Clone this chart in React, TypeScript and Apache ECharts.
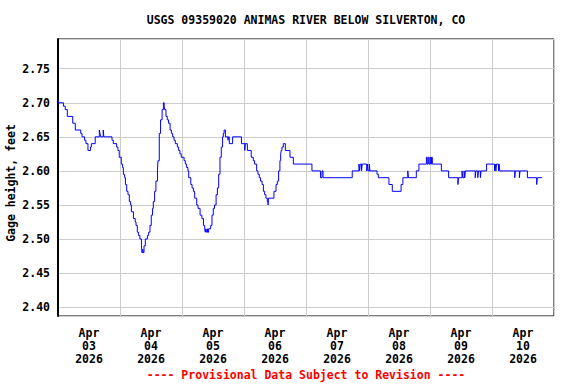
import React, { useEffect, useRef } from "react";
import * as echarts from "echarts";

// Hours since Apr 03 2026 00:00 where gage height changes (step series)
const hours = [
  0, 0.25, 2.1, 2.8, 3.6, 5.7, 6.7, 8.8, 9.3, 10.3, 10.8, 11.6, 12.6, 12.9, 14.4,
  16.0, 16.25, 16.5, 17.5, 17.75, 20.9, 21.4, 22.7, 23.2, 23.7, 24.5, 25.0, 25.3,
  25.8, 26.1, 26.6, 27.1, 27.6, 28.1, 28.4, 29.2, 29.9, 30.2, 30.7, 31.2, 31.7,
  32.3, 32.5, 32.8, 33.0, 33.3, 33.8, 34.6, 35.1, 35.6, 36.1, 36.6, 36.9, 37.4,
  37.9, 38.5, 38.7, 39.2, 39.7, 40.3, 40.8, 41.1, 41.3, 41.8, 42.3, 42.8, 43.4,
  43.9, 44.4, 44.9, 45.4, 46.2, 46.7, 47.2, 47.7, 48.8, 49.3, 49.8, 50.3, 50.6,
  51.4, 51.9, 52.4, 52.9, 53.7, 54.2, 55.0, 55.7, 56.3, 56.8, 57.0, 57.25, 57.5,
  57.8, 58.0, 58.3, 59.1, 59.6, 60.1, 60.6, 61.2, 61.7, 62.2, 62.7, 63.2, 63.7,
  64.0, 64.3, 64.8, 65.8, 66.0, 66.3, 67.6, 71.0, 72.3, 72.5, 73.3,
  74.8, 75.6, 76.1, 76.9, 77.4, 77.9, 78.4, 79.0, 79.5, 80.0, 80.5, 81.0, 81.3,
  81.5, 83.6, 84.4, 84.9, 85.4, 85.9, 86.2, 86.4, 86.7, 87.2, 88.0, 89.8, 91.1,
  98.3, 101.6, 102.2, 102.6,
  113.9, 116.5, 116.75, 117.0, 117.5, 117.75, 119.5, 119.75, 120.0, 120.5, 120.75,
  123.5, 124.0, 128.1, 129.4, 132.8, 133.5, 135.4, 135.65, 138.7, 139.7, 142.6,
  142.9, 143.3, 143.6, 144.0, 144.3, 144.6, 144.9, 148.4,
  151.2, 154.8, 155.05, 156.4, 156.65, 157.2, 157.45, 157.7, 161.5, 161.75, 162.5,
  162.75, 163.5, 163.75, 165.9, 169.0, 169.25, 169.5, 169.75, 170.5, 170.75, 171.0,
  176.8, 177.05, 178.6, 178.85, 181.7, 185.3, 185.55, 187.4,
];

// Gage height, feet
const gageHeight = [
  2.705, 2.70, 2.695, 2.69, 2.68, 2.67, 2.66, 2.655, 2.65, 2.645, 2.64, 2.63, 2.635, 2.64, 2.65,
  2.66, 2.655, 2.65, 2.66, 2.65, 2.645, 2.64, 2.635, 2.63, 2.62, 2.61, 2.605, 2.595,
  2.59, 2.58, 2.57, 2.565, 2.555, 2.55, 2.54, 2.53, 2.525, 2.52, 2.51, 2.505, 2.50,
  2.49, 2.48, 2.485, 2.48, 2.49, 2.50, 2.505, 2.51, 2.52, 2.535, 2.545, 2.555, 2.57,
  2.585, 2.60, 2.615, 2.655, 2.675, 2.69, 2.70, 2.695, 2.69, 2.68, 2.675, 2.67, 2.66,
  2.655, 2.65, 2.645, 2.64, 2.635, 2.63, 2.625, 2.62, 2.615, 2.61, 2.605, 2.60, 2.59,
  2.58, 2.575, 2.57, 2.56, 2.55, 2.545, 2.535, 2.53, 2.52, 2.515, 2.51, 2.515, 2.51,
  2.515, 2.51, 2.515, 2.52, 2.535, 2.545, 2.55, 2.565, 2.575, 2.595, 2.62, 2.635, 2.65,
  2.655, 2.66, 2.65, 2.645, 2.65, 2.64, 2.65, 2.64, 2.63, 2.64, 2.63,
  2.62, 2.615, 2.61, 2.60, 2.595, 2.59, 2.585, 2.58, 2.57, 2.565, 2.56, 2.555, 2.55,
  2.56, 2.57, 2.58, 2.585, 2.60, 2.615, 2.625, 2.63, 2.635, 2.64, 2.63, 2.62, 2.61,
  2.60, 2.59, 2.60, 2.59,
  2.60, 2.61, 2.60, 2.61, 2.60, 2.61, 2.60, 2.61, 2.60, 2.61, 2.60,
  2.595, 2.59, 2.58, 2.57, 2.58, 2.59, 2.60, 2.59, 2.60, 2.61, 2.62,
  2.61, 2.62, 2.61, 2.62, 2.61, 2.62, 2.61, 2.60,
  2.59, 2.58, 2.59, 2.60, 2.59, 2.60, 2.59, 2.60, 2.59, 2.60, 2.59,
  2.60, 2.59, 2.60, 2.61, 2.60, 2.61, 2.60, 2.61, 2.60, 2.61, 2.60,
  2.59, 2.60, 2.59, 2.60, 2.59, 2.58, 2.59, 2.59,
];

const monthLabel = "Apr";
const dayLabels = ["03", "04", "05", "06", "07", "08", "09", "10"];
const yearLabel = "2026";
const yTickLabels = ["2.40", "2.45", "2.50", "2.55", "2.60", "2.65", "2.70", "2.75"];

const titleText = "USGS 09359020 ANIMAS RIVER BELOW SILVERTON, CO";
const yAxisTitle = "Gage height, feet";
const footerText = "---- Provisional Data Subject to Revision ----";

const FONT = "'DejaVu Sans Mono', 'Liberation Mono', monospace";

export default function App() {
  const ref = useRef<HTMLDivElement>(null);

  useEffect(() => {
    if (!ref.current) return;
    const chart = echarts.init(ref.current, null, { renderer: "svg" });
    const data = hours.map((h, i) => [h, gageHeight[i]]);
    const gridLeft = 58;
    const gridTop = 39;
    const gridWidth = 496;
    const gridHeight = 277;
    const cx = gridLeft + gridWidth / 2;

    chart.setOption({
      animation: false,
      backgroundColor: "#ffffff",
      grid: {
        left: gridLeft,
        top: gridTop,
        width: gridWidth,
        height: gridHeight,
        show: true,
        borderColor: "#000000",
        borderWidth: 1,
        containLabel: false,
      },
      xAxis: [
        {
          type: "value",
          min: 0,
          max: 192,
          interval: 24,
          axisLine: { show: false },
          axisTick: { show: false },
          axisLabel: { show: false },
          splitLine: { show: true, lineStyle: { color: "#cccccc", width: 1 } },
        },
        {
          type: "value",
          position: "bottom",
          min: 0,
          max: 192,
          interval: 12,
          axisLine: { show: false },
          axisTick: { show: false },
          splitLine: { show: false },
          axisLabel: {
            show: true,
            margin: 10,
            color: "#000000",
            fontFamily: FONT,
            fontWeight: "bold",
            fontSize: 11.5,
            lineHeight: 13,
            showMinLabel: false,
            showMaxLabel: false,
            formatter: (v: number) => {
              if (Math.round(v) % 24 !== 12) return "";
              const idx = Math.floor(v / 24);
              return `${monthLabel}\n${dayLabels[idx]}\n${yearLabel}`;
            },
          },
        },
      ],
      yAxis: {
        type: "value",
        min: 2.387,
        max: 2.7936,
        splitNumber: 8,
        axisLine: { show: true, lineStyle: { color: "#000000", width: 2 } },
        axisTick: { show: false },
        splitLine: { show: true, lineStyle: { color: "#cccccc", width: 1 } },
        axisLabel: {
          margin: 8,
          color: "#000000",
          fontFamily: FONT,
          fontWeight: "bold",
          fontSize: 11.5,
          showMinLabel: false,
          showMaxLabel: false,
          formatter: (v: number) => {
            const s = v.toFixed(2);
            return yTickLabels.indexOf(s) >= 0 && Math.abs(v - parseFloat(s)) < 1e-6 ? s : "";
          },
        },
      },
      graphic: [
        {
          type: "text",
          x: cx,
          y: 20,
          style: {
            text: titleText,
            fill: "#000000",
            font: `bold 11.5px ${FONT}`,
            textAlign: "center",
            textVerticalAlign: "middle",
          },
        },
        {
          type: "text",
          x: 11,
          y: 183,
          rotation: Math.PI / 2,
          style: {
            text: yAxisTitle,
            fill: "#000000",
            font: `bold 11.5px ${FONT}`,
            textAlign: "center",
            textVerticalAlign: "middle",
          },
        },
        {
          type: "text",
          x: cx,
          y: 375,
          style: {
            text: footerText,
            fill: "#ff0000",
            font: `bold 11.5px ${FONT}`,
            textAlign: "center",
            textVerticalAlign: "middle",
          },
        },
      ],
      series: [
        {
          type: "line",
          xAxisIndex: 0,
          yAxisIndex: 0,
          data,
          step: "end",
          showSymbol: false,
          symbol: "none",
          lineStyle: { color: "#0000ff", width: 1 },
          silent: true,
        },
      ],
    });

    return () => chart.dispose();
  }, []);

  return (
    <div
      ref={ref}
      style={{ position: "absolute", left: 0, top: 0, width: 576, height: 384 }}
    />
  );
}
